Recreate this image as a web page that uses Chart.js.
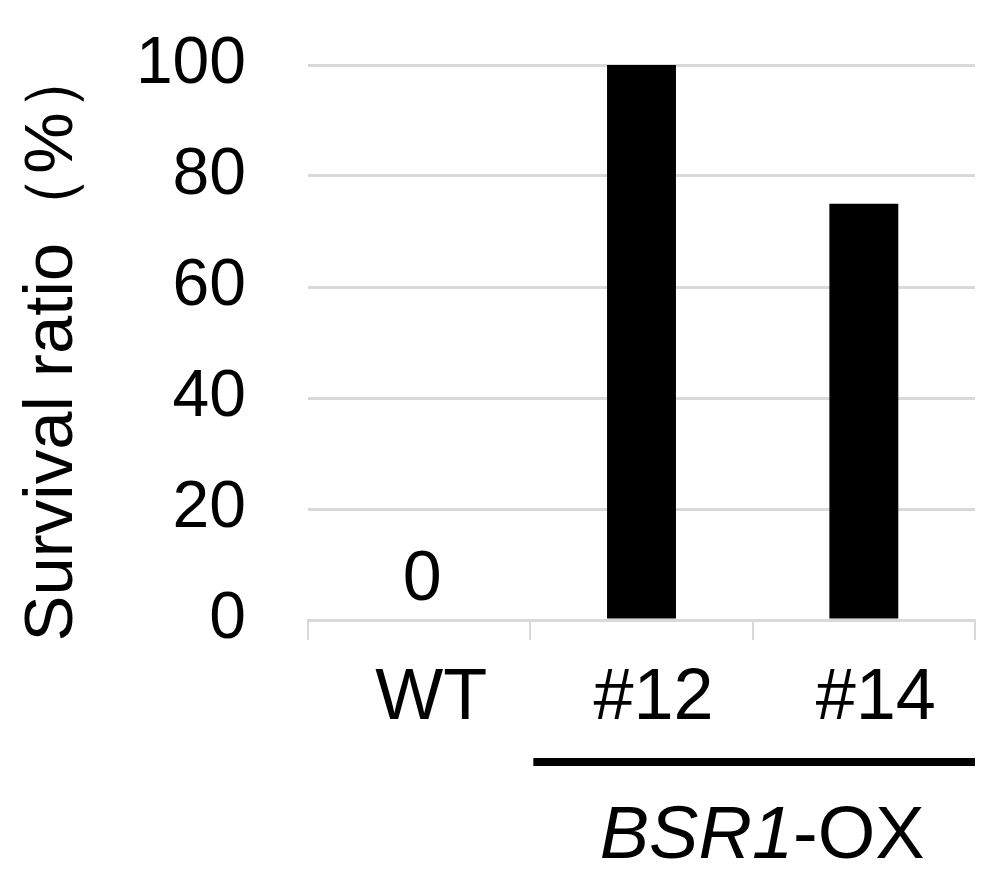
<!DOCTYPE html>
<html>
<head>
<meta charset="utf-8">
<script src="https://cdn.jsdelivr.net/npm/chart.js@4/dist/chart.umd.min.js"></script>
<style>
  html, body { margin: 0; background: #fff; }
</style>
</head>
<body>
<canvas id="myChart" width="1007" height="886"></canvas>
<script>
// Survival data
const categories = ['WT', '#12', '#14'];
const survival = [0, 100, 75];
const yMin = 0, yMax = 100, yStep = 20;
const groupItalic = 'BSR1';
const groupPlain = '-OX';
const yTitle = 'Survival ratio\uFF08%\uFF09';

const FONT = '"Liberation Sans", Arial, sans-serif';
const GRID = '#d9d9d9';

// Plugin: value label on the empty bar, and the BSR1-OX bracket under the axis
const extras = {
  id: 'extras',
  afterDraw(chart) {
    const { ctx } = chart;
    const x = chart.scales.x, y = chart.scales.y;
    ctx.save();
    ctx.fillStyle = '#000';
    ctx.font = '70px ' + FONT;
    ctx.textAlign = 'center';
    ctx.textBaseline = 'alphabetic';
    for (let i = 0; i < survival.length; i++) {
      if (survival[i] === 0) {
        ctx.fillText(String(survival[i]), x.getPixelForValue(i) + 3, y.getPixelForValue(survival[i]) - 20);
      }
    }
    // bracket spanning the OX lines
    const half = (x.getPixelForValue(1) - x.getPixelForValue(0)) / 2;
    const x0 = x.getPixelForValue(1) - half + 3;
    const x1 = x.getPixelForValue(2) + half;
    ctx.fillRect(x0, 758, x1 - x0, 8);
    // group label, gene name italic
    ctx.font = 'italic 74px ' + FONT;
    const wi = ctx.measureText(groupItalic).width;
    ctx.font = '74px ' + FONT;
    const wp = ctx.measureText(groupPlain).width;
    const cx = (x0 + x1) / 2 + 8;
    let sx = cx - (wi + wp) / 2;
    ctx.textAlign = 'left';
    ctx.font = 'italic 74px ' + FONT;
    ctx.fillText(groupItalic, sx, 858);
    ctx.font = '74px ' + FONT;
    ctx.fillText(groupPlain, sx + wi, 858);
    ctx.restore();
  }
};

const ctx = document.getElementById('myChart');
new Chart(ctx, {
  type: 'bar',
  data: {
    labels: categories,
    datasets: [{
      data: survival,
      backgroundColor: '#000',
      borderWidth: 0,
      barPercentage: 0.31,
      categoryPercentage: 1
    }]
  },
  options: {
    responsive: false,
    animation: false,
    layout: { padding: { top: 65, right: 32, left: 0, bottom: 0 } },
    plugins: {
      legend: { display: false },
      tooltip: { enabled: false }
    },
    scales: {
      x: {
        afterFit(scale) { scale.height = 266; },
        grid: {
          offset: true,
          drawOnChartArea: false,
          color: GRID,
          lineWidth: 2,
          tickLength: 20
        },
        border: { color: GRID, width: 3 },
        ticks: {
          color: '#000',
          padding: 16,
          labelOffset: 12,
          font: { family: FONT, size: 72 }
        }
      },
      y: {
        min: yMin,
        max: yMax,
        afterFit(scale) {
          scale.width = 308;
          scale.paddingTop = 0;
          scale.paddingBottom = 0;
        },
        grid: { color: GRID, lineWidth: 3, drawTicks: false },
        border: { display: false },
        ticks: {
          stepSize: yStep,
          color: '#000',
          padding: 62,
          font: { family: FONT, size: 66 }
        },
        title: {
          display: true,
          text: yTitle,
          color: '#000',
          padding: { top: 12, bottom: 0 },
          font: { family: FONT, size: 69 }
        }
      }
    }
  },
  plugins: [extras]
});
</script>
</body>
</html>
